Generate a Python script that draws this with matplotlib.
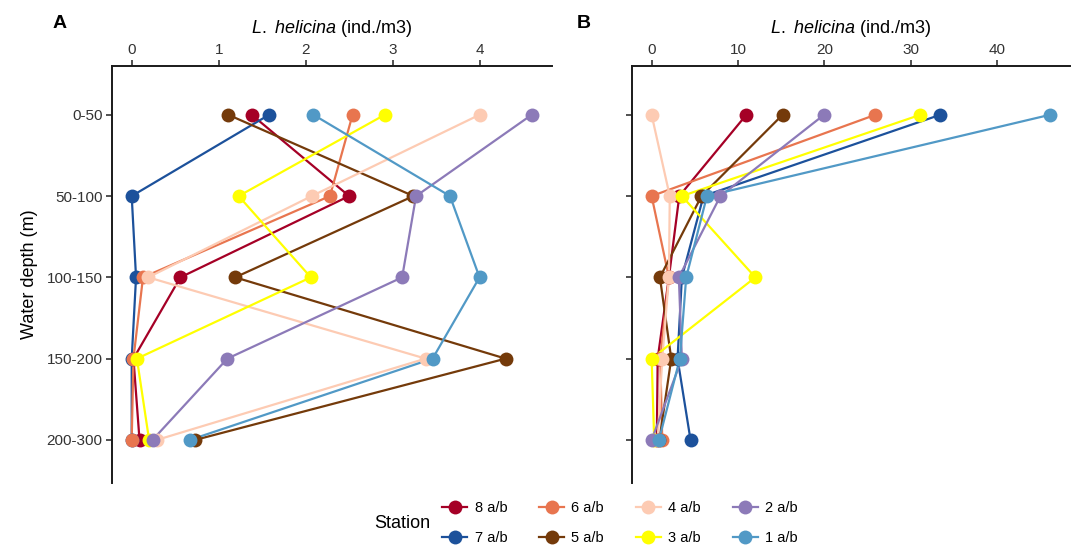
import matplotlib
matplotlib.use("Agg")
import matplotlib.pyplot as plt
from matplotlib.lines import Line2D

plt.rcParams['font.family'] = ['Liberation Sans', 'DejaVu Sans']
plt.rcParams['mathtext.fontset'] = 'custom'
plt.rcParams['mathtext.rm'] = 'Liberation Sans'
plt.rcParams['mathtext.it'] = 'Liberation Sans:italic'

depths = ['0-50', '50-100', '100-150', '150-200', '200-300']
stations = ['8 a/b', '7 a/b', '6 a/b', '5 a/b', '4 a/b', '3 a/b', '2 a/b', '1 a/b']
colors = ['#A50026', '#1C519B', '#E8754F', '#743A0A', '#FDCBB3', '#FFFF00', '#8C7AB8', '#5199C6']

# Panel A values (ind./m3), one list per station, ordered by depth
a_st8 = [1.38, 2.50, 0.56, 0.02, 0.09]
a_st7 = [1.58, 0.00, 0.05, 0.00, 0.00]
a_st6 = [2.54, 2.28, 0.13, 0.02, 0.00]
a_st5 = [1.11, 3.24, 1.19, 4.30, 0.73]
a_st4 = [4.00, 2.07, 0.19, 3.38, 0.29]
a_st3 = [2.91, 1.23, 2.06, 0.06, 0.20]
a_st2 = [4.60, 3.27, 3.11, 1.10, 0.24]
a_st1 = [2.09, 3.66, 4.00, 3.46, 0.67]

# Panel B values (ind./m3)
b_st8 = [10.96, 3.2, 2.0, 0.7, 0.6]
b_st7 = [33.4, 6.0, 3.5, 3.0, 4.5]
b_st6 = [25.9, 0.0, 2.0, 1.0, 1.23]
b_st5 = [15.15, 5.77, 0.96, 2.27, 0.9]
b_st4 = [0.0, 2.1, 2.0, 1.23, 0.7]
b_st3 = [31.1, 3.5, 12.0, 0.0, 0.3]
b_st2 = [19.95, 7.96, 3.15, 3.5, 0.0]
b_st1 = [46.1, 6.4, 4.0, 3.27, 0.85]

panel_a = [a_st8, a_st7, a_st6, a_st5, a_st4, a_st3, a_st2, a_st1]
panel_b = [b_st8, b_st7, b_st6, b_st5, b_st4, b_st3, b_st2, b_st1]

W, H = 1076, 547
fig = plt.figure(figsize=(W / 100, H / 100), dpi=100)

def px_axes(x0, x1, y0, y1):
    return fig.add_axes([x0 / W, 1 - y1 / H, (x1 - x0) / W, (y1 - y0) / H])

axA = px_axes(111.7, 551.7, 66, 483)
axB = px_axes(631.7, 1070, 66, 483)

ypos = list(range(len(depths)))
for ax, data, xt, tag in [(axA, panel_a, [0, 1, 2, 3, 4], 'A'), (axB, panel_b, [0, 10, 20, 30, 40], 'B')]:
    for vals, c in zip(data, colors):
        ax.plot(vals, ypos, color=c, lw=1.6, zorder=2, solid_capstyle='butt')
    for vals, c in zip(data, colors):
        ax.plot(vals, ypos, ls='none', marker='o', ms=10, color=c, mec='none', zorder=3)
    allv = [v for s in data for v in s]
    mx = max(allv)
    ax.set_xlim(-0.05 * mx, mx * 1.05)
    ax.set_ylim(4.53, -0.6)
    ax.set_yticks(ypos)
    ax.set_yticklabels(depths)
    ax.set_xticks(xt)
    ax.xaxis.tick_top()
    ax.xaxis.set_label_position('top')
    ax.set_xlabel(r'$\it{L.}$ $\it{helicina}$ (ind./m3)', fontsize=13, labelpad=7)
    for s in ['right', 'bottom']:
        ax.spines[s].set_visible(False)
    for s in ['left', 'top']:
        ax.spines[s].set_linewidth(1.4)
        ax.spines[s].set_color('#1a1a1a')
    ax.tick_params(axis='both', direction='out', length=4, width=1.2, color='#333333',
                   labelsize=11, labelcolor='#333333', pad=2.5)
    if tag == 'B':
        ax.set_yticklabels([])

axA.set_ylabel('Water depth (m)', fontsize=13, labelpad=6)

fig.text(60 / W, 1 - 23 / H, 'A', fontsize=14, fontweight='bold', ha='center', va='center')
fig.text(584 / W, 1 - 23 / H, 'B', fontsize=14, fontweight='bold', ha='center', va='center')

handles = [Line2D([0], [0], color=c, lw=1.6, marker='o', ms=10, mec='none') for c in colors]
fig.legend(handles, stations, loc='center', ncol=4, frameon=False,
           bbox_to_anchor=(620 / W, 1 - 523 / H), fontsize=10.5,
           handlelength=1.7, handletextpad=0.5, columnspacing=2.2, labelspacing=1.1)
fig.text(402 / W, 1 - 523 / H, 'Station', fontsize=13, ha='center', va='center')

fig.savefig('out.png', dpi=100)
